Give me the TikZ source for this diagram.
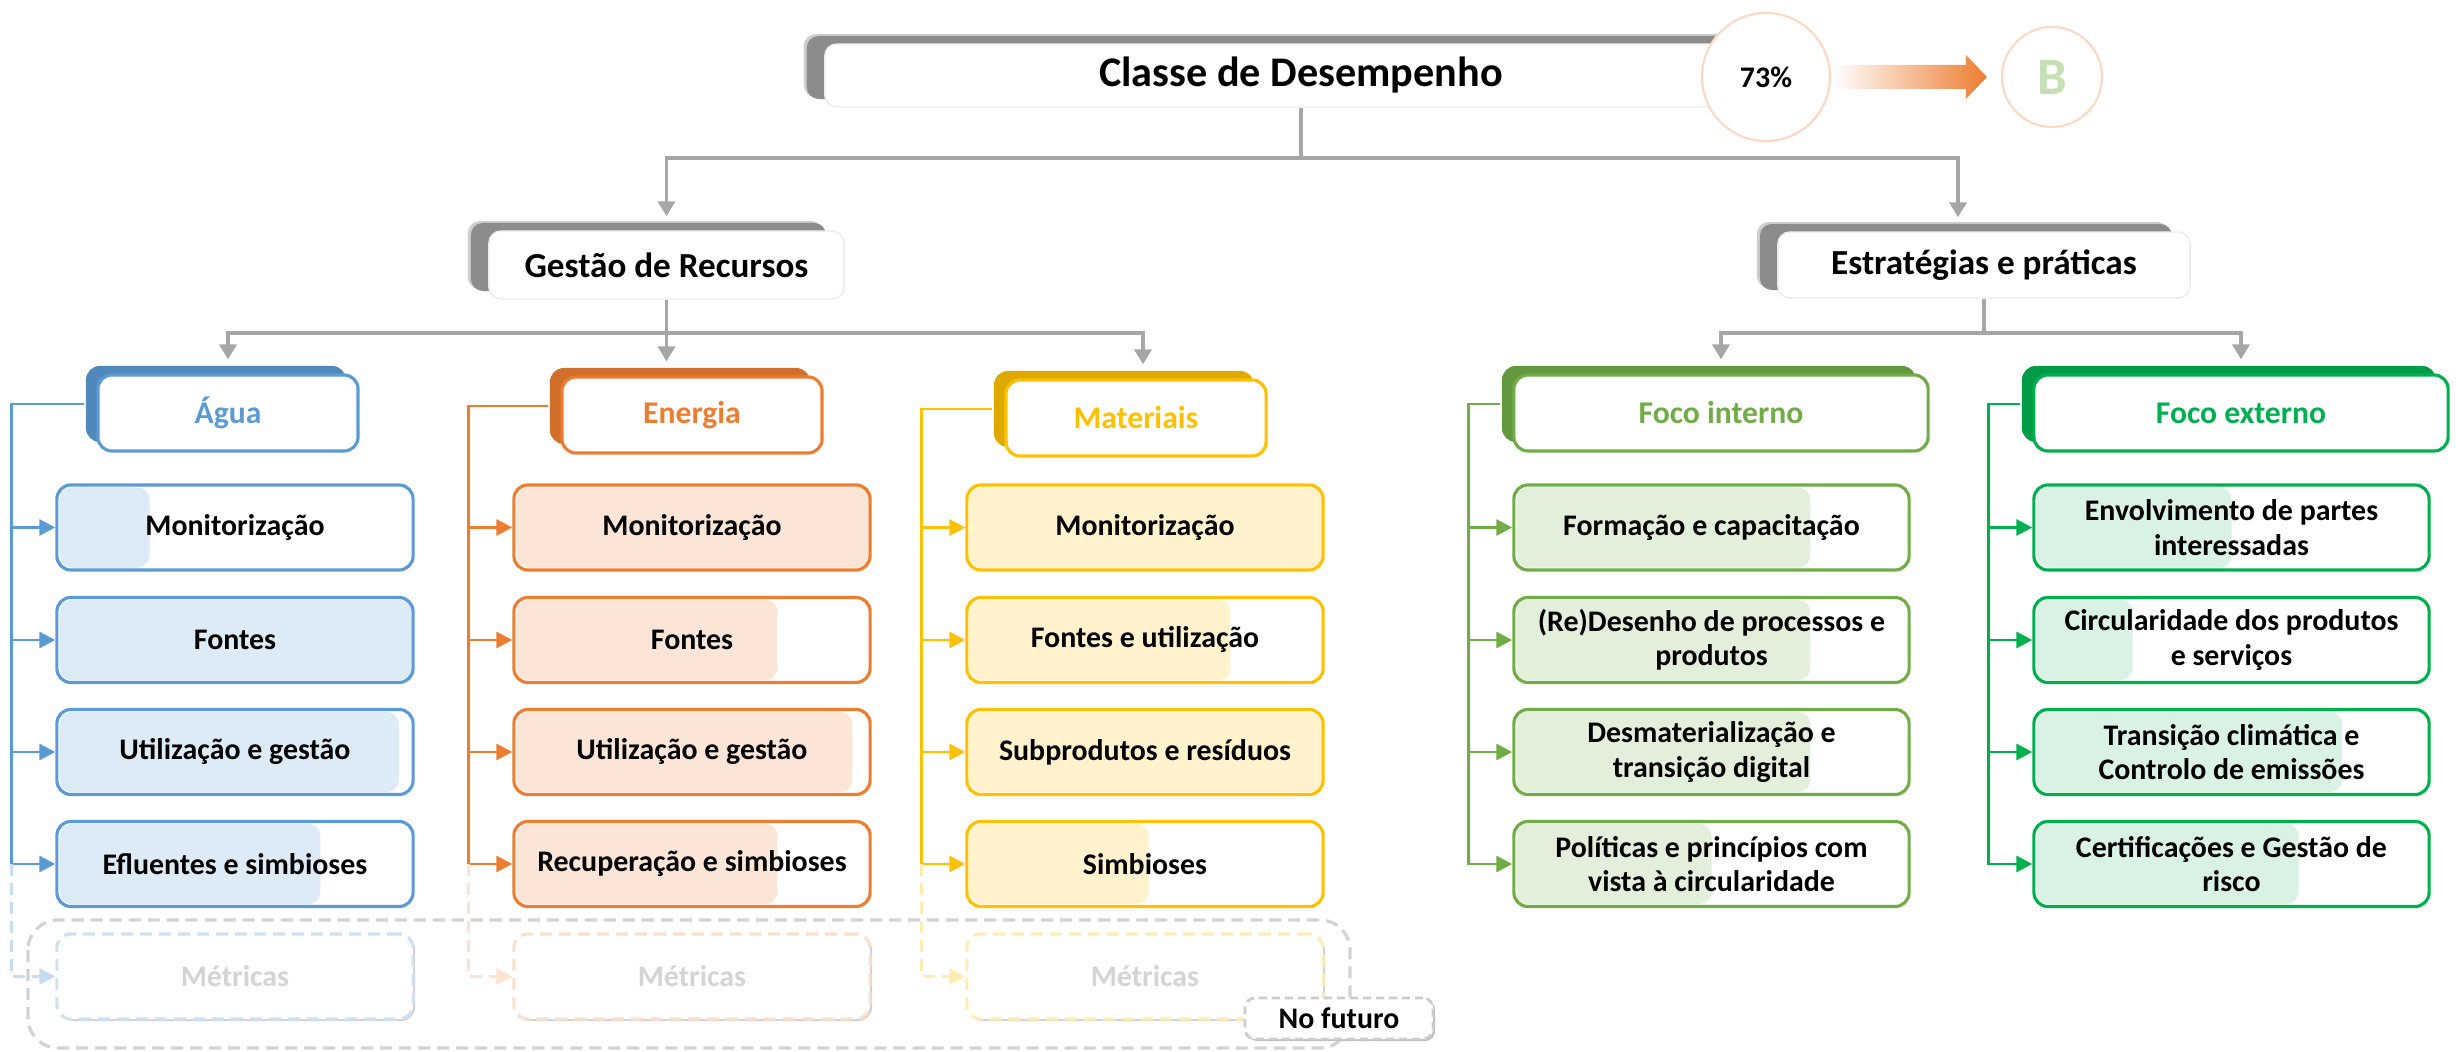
\documentclass[tikz,border=0pt]{standalone}
\usepackage{fontspec}
\setmainfont{Carlito}
\usepackage{tikz}
\usetikzlibrary{arrows.meta, calc, shadows, positioning}

\definecolor{gryC}{HTML}{A6A6A6}
\definecolor{bluC}{HTML}{5B9BD5}
\definecolor{bluF}{HTML}{DDEBF7}
\definecolor{orgC}{HTML}{ED7D31}
\definecolor{orgF}{HTML}{FBE5D6}
\definecolor{yelC}{HTML}{FFC000}
\definecolor{yelF}{HTML}{FFF2CC}
\definecolor{grnC}{HTML}{70AD47}
\definecolor{grnF}{HTML}{E2EFDA}
\definecolor{dgrC}{HTML}{00B050}
\definecolor{dgrF}{HTML}{D9F2E4}
\definecolor{clsB}{HTML}{C5E0B4}

\tikzset{
  gline/.style={draw=gryC, line width=1.1pt},
  garr/.style={gline, -{Triangle[length=0.15cm,width=0.17cm]}, shorten >=0.14cm},
  sline/.style={draw=#1, line width=0.85pt, -{Triangle[length=0.16cm,width=0.16cm]}},
  topbox/.style={fill=white, draw=black!8, rounded corners=0.12cm, inner sep=0pt,
    general shadow={fill=black!38, shadow xshift=-0.21cm, shadow yshift=0.1cm, opacity=0.5},
    general shadow={fill=black!45, shadow xshift=-0.18cm, shadow yshift=0.08cm}},
  hdr/.style={fill=white, draw=#1, text=#1, line width=0.9pt, rounded corners=0.14cm,
    minimum height=0.76cm, inner sep=0pt, font=\fontsize{9}{10}\selectfont\bfseries,
    general shadow={fill=#1!88!black, shadow xshift=-0.12cm, shadow yshift=0.09cm}},
  task/.style 2 args={fill=white, draw=#1C, line width=0.9pt, rounded corners=0.14cm,
    minimum height=0.85cm, inner sep=0pt, align=center,
    font=\fontsize{8.5}{9.8}\selectfont\bfseries,
    path picture={\fill[#1F, rounded corners=0.12cm]
      ([shift={(0.025cm,0.025cm)}]path picture bounding box.south west) rectangle
      ($(path picture bounding box.north west)!#2!(path picture bounding box.north east)+(0,2.5)$);}},
  later/.style={fill=white, draw=#1, dash pattern=on 0.12cm off 0.07cm, line width=0.9pt,
    rounded corners=0.14cm, minimum width=3.56cm, minimum height=0.85cm, inner sep=0pt,
    text=black!17, font=\fontsize{8.5}{9.8}\selectfont\bfseries,
    general shadow={fill=black!18, shadow xshift=0.02cm, shadow yshift=-0.02cm}}
}

\begin{document}
\begin{tikzpicture}[x=0.01cm, y=-0.01cm]
	\def\gap{44}
	\useasboundingbox (0,0) rectangle (2456,1052);

	% top level
	\node[topbox, minimum width=9.52cm, minimum height=0.63cm, font=\fontsize{12}{13}\selectfont\bfseries] (top) at (1301,75.5) {Classe de Desempenho};
	\node[circle, fill=white, draw=orgC!30, line width=0.6pt, minimum size=1.28cm, inner sep=0pt, font=\fontsize{8.5}{9}\selectfont\bfseries] (pct) at (1766,77) {73\%};
	\node[circle, fill=white, draw=orgC!30, line width=0.6pt, minimum size=1.0cm, inner sep=0pt, text=clsB, font=\fontsize{15}{16}\selectfont\bfseries] (cls) at (2052,77) {B};
	\shade[left color=white, right color=orgC] ($(pct.east)+(2,-12)$) -- ($(cls.west)+(-35,-12)$) -- ($(cls.west)+(-35,-22)$) -- ($(cls.west)+(-14,0)$) -- ($(cls.west)+(-35,22)$) -- ($(cls.west)+(-35,12)$) -- ($(pct.east)+(2,12)$) -- cycle;

	\node[topbox, minimum width=3.55cm, minimum height=0.68cm, font=\fontsize{10}{11}\selectfont\bfseries] (gest) at (666.5,265) {Gestão de Recursos};
	\node[topbox, minimum width=4.12cm, minimum height=0.66cm, font=\fontsize{10}{11}\selectfont\bfseries] (estr) at (1984,265) {Estratégias e práticas};

	\draw[gline] (top.south) -- ++(0,50) coordinate (tj);
	\draw[garr] (tj) -| (gest.north);
	\draw[garr] (tj) -| ($(estr.north)+(-26,0)$);

	% categories
	\node[hdr=bluC, minimum width=2.6cm] (agua) at (228,413) {Água};
	\node[hdr=orgC, minimum width=2.6cm] (ener) at (692,415) {Energia};
	\node[hdr=yelC, minimum width=2.6cm] (mat) at (1136,418) {Materiais};
	\node[hdr=grnC, minimum width=4.14cm] (fint) at (1721,413) {Foco interno};
	\node[hdr=dgrC, minimum width=4.14cm] (fext) at (2241,413) {Foco externo};

	\draw[gline] (gest.south) -- ++(0,33) coordinate (gj);
	\draw[garr] (gj) -| (agua.north);
	\draw[garr] (gj) -- (gj |- ener.north);
	\draw[garr] (gj) -| ($(mat.north)+(7,0)$);
	\draw[gline] (estr.south) -- ++(0,34) coordinate (ej);
	\draw[garr] (ej) -| (fint.north);
	\draw[garr] (ej) -| (fext.north);

	% future box
	\draw[gray!35, line width=0.9pt, dash pattern=on 0.12cm off 0.07cm, rounded corners=0.3cm] (28,920) rectangle (1350,1048);

	% agua
	\node[task={blu}{0.26}, minimum width=3.56cm] (a1) at (235,527.5) {Monitorização};
	\node[task={blu}{1}, minimum width=3.56cm] (a2) at (235,640) {Fontes};
	\node[task={blu}{0.96}, minimum width=3.56cm] (a3) at (235,752) {Utilização e gestão};
	\node[task={blu}{0.74}, minimum width=3.56cm] (a4) at (235,864) {Efluentes e simbioses};
	\node[later=bluC!30] (a5) at (235,976.5) {Métricas};
	\coordinate (aL) at ($(a1.west)+(-\gap,0)$);
	\draw[sline=bluC] ($(agua.west)+(-12,-9)$) -| (aL |- a4.west) -- (a4.west);
	\draw[sline=bluC] (aL |- a1.west) -- (a1.west);
	\draw[sline=bluC] (aL |- a2.west) -- (a2.west);
	\draw[sline=bluC] (aL |- a3.west) -- (a3.west);
	\draw[sline=bluC!35, dash pattern=on 0.12cm off 0.07cm] (aL |- a4.west) |- (a5.west);

	% energia
	\node[task={org}{1}, minimum width=3.56cm] (e1) at (692,527.5) {Monitorização};
	\node[task={org}{0.74}, minimum width=3.56cm] (e2) at (692,640) {Fontes};
	\node[task={org}{0.95}, minimum width=3.56cm] (e3) at (692,752) {Utilização e gestão};
	\node[task={org}{0.74}, minimum width=3.56cm] (e4) at (692,864) {Recuperação e simbioses};
	\node[later=orgC!25] (e5) at (692,976.5) {Métricas};
	\coordinate (eL) at ($(e1.west)+(-\gap,0)$);
	\draw[sline=orgC] ($(ener.west)+(-12,-9)$) -| (eL |- e4.west) -- (e4.west);
	\draw[sline=orgC] (eL |- e1.west) -- (e1.west);
	\draw[sline=orgC] (eL |- e2.west) -- (e2.west);
	\draw[sline=orgC] (eL |- e3.west) -- (e3.west);
	\draw[sline=orgC!22, dash pattern=on 0.12cm off 0.07cm] (eL |- e4.west) |- (e5.west);

	% materiais
	\node[task={yel}{1}, minimum width=3.56cm] (m1) at (1145,527.5) {Monitorização};
	\node[task={yel}{0.74}, minimum width=3.56cm] (m2) at (1145,640) {Fontes e utilização};
	\node[task={yel}{1}, minimum width=3.56cm] (m3) at (1145,752) {Subprodutos e resíduos};
	\node[task={yel}{0.51}, minimum width=3.56cm] (m4) at (1145,864) {Simbioses};
	\node[later=yelC!30] (m5) at (1145,976.5) {Métricas};
	\coordinate (mL) at ($(m1.west)+(-\gap,0)$);
	\draw[sline=yelC] ($(mat.west)+(-12,-9)$) -| (mL |- m4.west) -- (m4.west);
	\draw[sline=yelC] (mL |- m1.west) -- (m1.west);
	\draw[sline=yelC] (mL |- m2.west) -- (m2.west);
	\draw[sline=yelC] (mL |- m3.west) -- (m3.west);
	\draw[sline=yelC!30, dash pattern=on 0.12cm off 0.07cm] (mL |- m4.west) |- (m5.west);

	\node[fill=white, draw=gray!40, dash pattern=on 0.08cm off 0.05cm, line width=0.8pt, rounded corners=0.1cm, minimum width=1.88cm, minimum height=0.41cm, inner sep=0pt, font=\fontsize{8.5}{9.8}\selectfont\bfseries, general shadow={fill=black!25, shadow xshift=0.02cm, shadow yshift=-0.02cm}] (fut) at (1339,1018.5) {No futuro};

	% foco interno
	\node[task={grn}{0.75}, minimum width=3.95cm] (i1) at (1711.5,527.5) {Formação e capacitação};
	\node[task={grn}{0.75}, minimum width=3.95cm] (i2) at (1711.5,640) {(Re)Desenho de processos e\\produtos};
	\node[task={grn}{0.75}, minimum width=3.95cm] (i3) at (1711.5,752) {Desmaterialização e\\transição digital};
	\node[task={grn}{0.5}, minimum width=3.95cm] (i4) at (1711.5,864) {Políticas e princípios com\\vista à circularidade};
	\coordinate (iL) at ($(i1.west)+(-\gap,0)$);
	\draw[sline=grnC] ($(fint.west)+(-12,-9)$) -| (iL |- i4.west) -- (i4.west);
	\draw[sline=grnC] (iL |- i1.west) -- (i1.west);
	\draw[sline=grnC] (iL |- i2.west) -- (i2.west);
	\draw[sline=grnC] (iL |- i3.west) -- (i3.west);

	% foco externo
	\node[task={dgr}{0.5}, minimum width=3.95cm] (x1) at (2231.5,527.5) {Envolvimento de partes\\interessadas};
	\node[task={dgr}{0.25}, minimum width=3.95cm] (x2) at (2231.5,640) {Circularidade dos produtos\\e serviços};
	\node[task={dgr}{0.78}, minimum width=3.95cm] (x3) at (2231.5,752) {Transição climática e\\Controlo de emissões};
	\node[task={dgr}{0.67}, minimum width=3.95cm] (x4) at (2231.5,864) {Certificações e Gestão de\\risco};
	\coordinate (xL) at ($(x1.west)+(-\gap,0)$);
	\draw[sline=dgrC] ($(fext.west)+(-12,-9)$) -| (xL |- x4.west) -- (x4.west);
	\draw[sline=dgrC] (xL |- x1.west) -- (x1.west);
	\draw[sline=dgrC] (xL |- x2.west) -- (x2.west);
	\draw[sline=dgrC] (xL |- x3.west) -- (x3.west);
\end{tikzpicture}
\end{document}
